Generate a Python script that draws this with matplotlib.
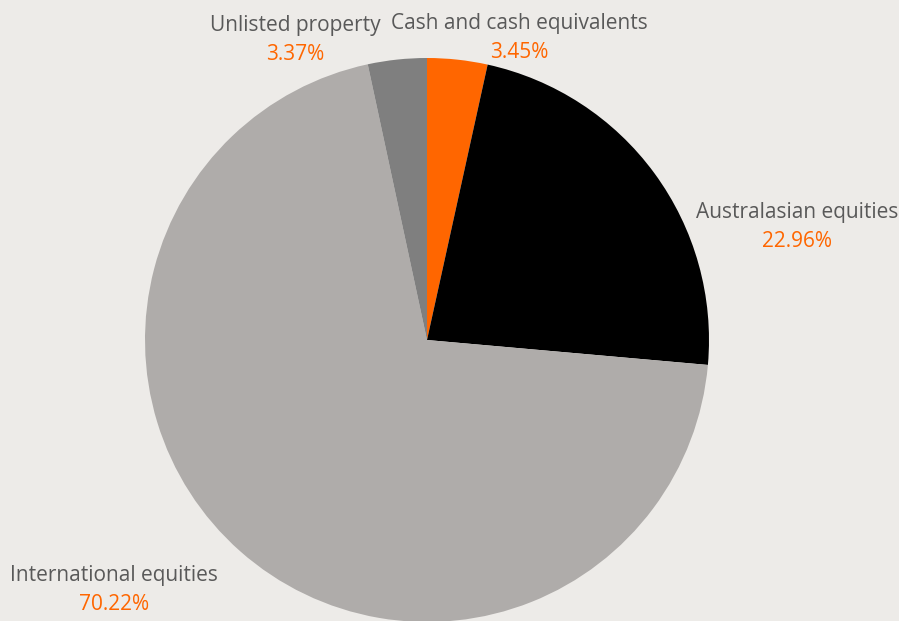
import matplotlib.pyplot as plt

categories = ["Cash and cash equivalents", "Australasian equities",
              "International equities", "Unlisted property"]
shares = [3.45, 22.96, 70.22, 3.37]
colors = ["#FF6600", "#000000", "#AFACAA", "#7F7F7F"]

# label centres in pixels (x, y from top), pie centre (427, 340), radius 282
label_px = [(519, 23), (797, 213), (114, 576), (295, 25)]
cx, cy, r = 427, 340, 282
W, H = 899, 621

plt.rcParams['font.family'] = ['Open Sans', 'DejaVu Sans']

fig = plt.figure(figsize=(W / 100, H / 100), dpi=100)
fig.patch.set_facecolor("#EDEBE8")
ax = fig.add_axes([0, 0, 1, 1])
ax.set_facecolor("#EDEBE8")

ax.pie(shares, colors=colors, startangle=90, counterclock=False,
       radius=1, wedgeprops=dict(linewidth=0))

for name, val, (px, py) in zip(categories, shares, label_px):
    x = (px - cx) / r
    y = (cy - py) / r
    ax.text(x, y, name, ha="center", va="center", fontsize=15, color="#595959")
    ax.text(x, y - 29 / r, "%.2f%%" % val, ha="center", va="center",
            fontsize=15, color="#FF6600")

ax.set_xlim(-cx / r, (W - cx) / r)
ax.set_ylim(-(H - cy) / r, cy / r)
ax.set_aspect("equal")
ax.axis("off")

fig.savefig("out.png", dpi=100, facecolor=fig.get_facecolor())
